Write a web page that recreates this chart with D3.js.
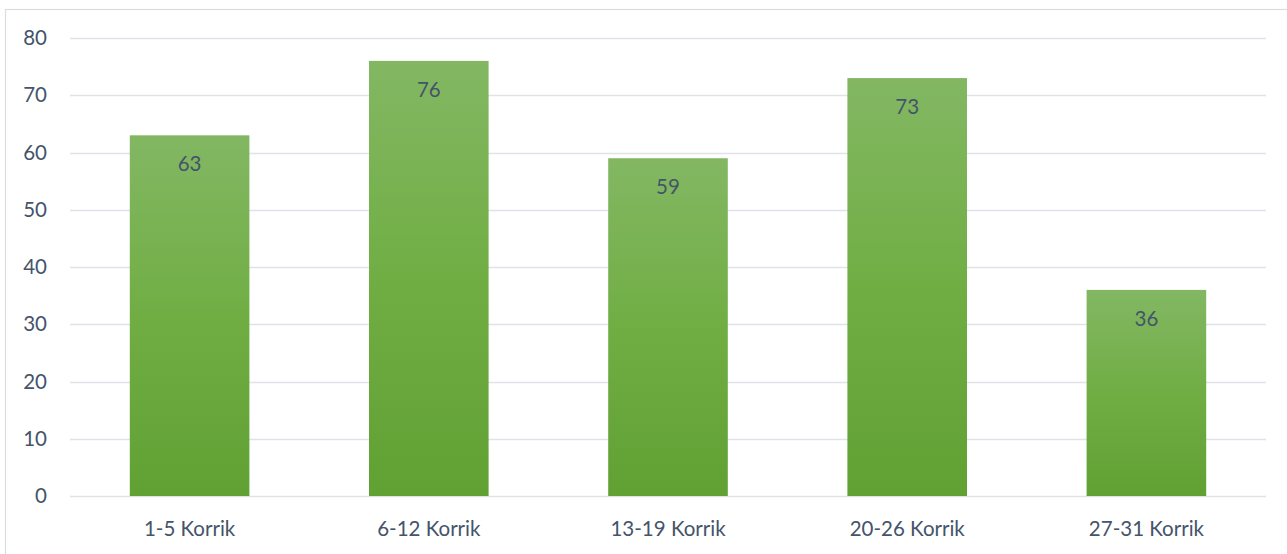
<!DOCTYPE html>
<html><head><meta charset="utf-8">
<script src="https://cdn.jsdelivr.net/npm/d3@7"></script>
<style>body{margin:0;background:#fff;}svg{display:block;font-family:Lato,"Open Sans",sans-serif;}</style>
</head><body>
<svg id="c" width="1287" height="554"></svg>
<script>
const categories = ["1-5 Korrik","6-12 Korrik","13-19 Korrik","20-26 Korrik","27-31 Korrik"];
const values = [63, 76, 59, 73, 36];
const yTicks = [0,10,20,30,40,50,60,70,80];

const svg = d3.select("#c");
const W = 1287, H = 554;
const m = {left:70, right:21, top:38, bottom:58};
const FS = 20.5;

// chart-area border: only left and top edges fall inside the picture
svg.append("rect").attr("x",5.5).attr("y",9.5).attr("width",W+20).attr("height",H+20)
  .attr("fill","#fff").attr("stroke","#d9dde3").attr("stroke-width",1.2);

const x = d3.scaleBand().domain(categories).range([m.left, W-m.right]).paddingInner(0.5).paddingOuter(0.25);
const y = d3.scaleLinear().domain([0,80]).range([H-m.bottom, m.top]);

const defs = svg.append("defs");
const g = defs.append("linearGradient").attr("id","gr").attr("x1",0).attr("y1",0).attr("x2",0).attr("y2",1);
g.append("stop").attr("offset","0%").attr("stop-color","#83b763");
g.append("stop").attr("offset","50%").attr("stop-color","#70ae44");
g.append("stop").attr("offset","100%").attr("stop-color","#61a033");

// gridlines
svg.append("g").selectAll("line").data(yTicks).join("line")
  .attr("x1",m.left).attr("x2",W-m.right)
  .attr("y1",d=>Math.round(y(d))+0.5).attr("y2",d=>Math.round(y(d))+0.5)
  .attr("stroke","#dfe3e8").attr("stroke-width",1.5);

// y axis labels
const ya = svg.append("g").attr("transform",`translate(${m.left-23},0)`)
  .call(d3.axisLeft(y).tickValues(yTicks).tickSize(0).tickPadding(0));
ya.select(".domain").remove();
ya.selectAll("text").attr("fill","#44546a").attr("font-size",FS).attr("font-family","Lato,'Open Sans',sans-serif");

// bars
svg.append("g").selectAll("rect").data(values).join("rect")
  .attr("x",(d,i)=>x(categories[i])).attr("width",x.bandwidth())
  .attr("y",d=>y(d)).attr("height",d=>y(0)-y(d))
  .attr("fill","url(#gr)");

// value labels
svg.append("g").selectAll("text").data(values).join("text")
  .attr("x",(d,i)=>x(categories[i])+x.bandwidth()/2)
  .attr("y",d=>y(d)+36)
  .attr("text-anchor","middle").attr("fill","#44546a").attr("font-size",FS)
  .text(d=>d);

// x axis
const xa = svg.append("g").attr("transform",`translate(0,${y(0)})`)
  .call(d3.axisBottom(x).tickSize(0).tickPadding(25));
xa.select(".domain").remove();
xa.selectAll("text").attr("fill","#44546a").attr("font-size",FS).attr("font-family","Lato,'Open Sans',sans-serif");
</script>
</body></html>
